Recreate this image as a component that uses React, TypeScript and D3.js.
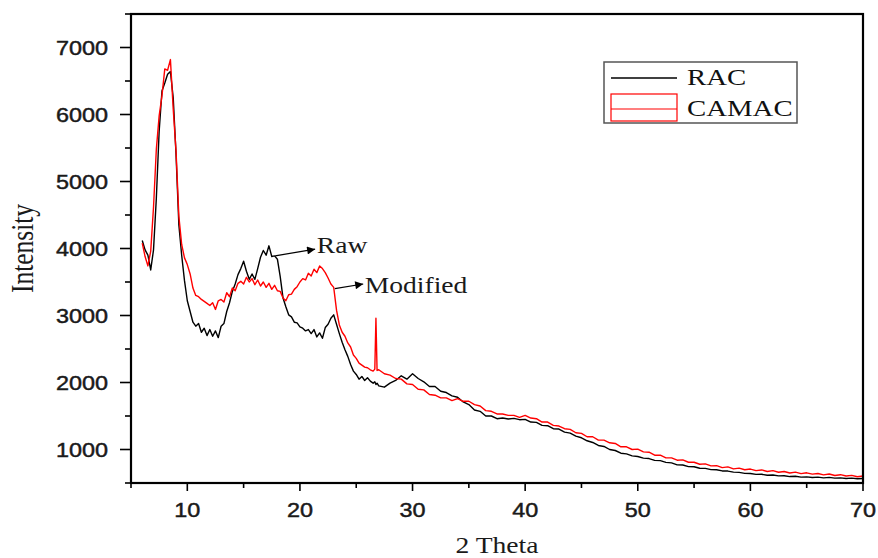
import React from "react";
import * as d3 from "d3";

// 2θ sampling positions (degrees)
const twoTheta: number[] = [
  6, 6.25, 6.5, 6.75, 7, 7.25, 7.5, 7.75, 8, 8.25, 8.5, 8.75, 9, 9.25, 9.5, 9.75,
  10, 10.25, 10.5, 10.75, 11, 11.25, 11.5, 11.75, 12, 12.25, 12.5, 12.75, 13, 13.25, 13.5, 13.75,
  14, 14.25, 14.5, 14.75, 15, 15.25, 15.5, 15.75, 16, 16.25, 16.5, 16.75, 17, 17.25, 17.5, 17.75,
  18, 18.25, 18.5, 18.75, 19, 19.25, 19.5, 19.75, 20, 20.25, 20.5, 20.75, 21, 21.25, 21.5, 21.75,
  22, 22.25, 22.5, 22.75, 23, 23.25, 23.5, 23.75, 24, 24.25, 24.5, 24.75, 25, 25.25, 25.5, 25.75,
  26, 26.25, 26.5, 26.65, 26.75, 26.85, 27, 27.5, 28, 28.5, 29, 29.5, 30, 30.5, 31, 31.5,
  32, 32.5, 33, 33.5, 34, 34.5, 35, 35.5, 36, 36.5, 37, 37.5, 38, 38.5, 39, 39.5,
  40, 40.5, 41, 41.5, 42, 42.5, 43, 43.5, 44, 44.5, 45, 45.5, 46, 46.5, 47, 47.5,
  48, 48.5, 49, 49.5, 50, 50.5, 51, 51.5, 52, 52.5, 53, 53.5, 54, 54.5, 55, 55.5,
  56, 56.5, 57, 57.5, 58, 58.5, 59, 59.5, 60, 60.5, 61, 61.5, 62, 62.5, 63, 63.5,
  64, 64.5, 65, 65.5, 66, 66.5, 67, 67.5, 68, 68.5, 69, 69.5, 70,
];

// RAC (raw) intensity
const racIntensity: number[] = [
  4120, 3980, 3900, 3680, 3980, 4750, 5750, 6350, 6470, 6600, 6640, 6250, 5400, 4350, 3900, 3520,
  3220, 3060, 2900, 2840, 2880, 2750, 2810, 2700, 2790, 2690, 2770, 2670, 2840, 2880, 3060, 3190,
  3360, 3470, 3610, 3700, 3810, 3660, 3540, 3620, 3540, 3700, 3870, 3970, 3900, 4040, 3880, 3890,
  3840, 3580, 3260, 3130, 3010, 2980, 2900, 2890, 2830, 2810, 2770, 2790, 2730, 2790, 2680, 2740,
  2660, 2820, 2870, 2960, 3010, 2870, 2730, 2600, 2490, 2390, 2270, 2170, 2120, 2050, 2090, 2030,
  2070, 2020, 1990, 2010, 1970, 1990, 1950, 1930, 1990, 2030, 2100, 2050, 2130, 2060, 2010, 1940,
  1940, 1870, 1850, 1800, 1780, 1710, 1670, 1590, 1570, 1500, 1500, 1460, 1470, 1455, 1465, 1445,
  1450, 1410, 1405, 1360, 1355, 1310, 1305, 1260, 1245, 1200, 1175, 1130, 1105, 1060, 1045, 1000,
  985, 945, 935, 905, 895, 872, 865, 838, 834, 808, 800, 770, 768, 745, 742, 720,
  718, 700, 698, 680, 678, 662, 658, 643, 642, 628, 630, 616, 620, 607, 609, 596,
  600, 588, 592, 583, 587, 576, 584, 572, 577, 568, 573, 564, 568,
];

// CAMAC (modified) intensity
const camacIntensity: number[] = [
  4080, 3880, 3740, 3960, 4620, 5480, 5980, 6280, 6680, 6660, 6820, 6080, 5450, 4480, 4060, 3860,
  3760, 3620, 3410, 3300, 3280, 3240, 3210, 3180, 3150, 3190, 3090, 3220, 3240, 3200, 3340, 3280,
  3410, 3370, 3480, 3510, 3470, 3570, 3500, 3550, 3460, 3530, 3440, 3500, 3420, 3480, 3390, 3450,
  3370, 3360, 3260, 3220, 3310, 3320, 3390, 3430, 3500, 3550, 3530, 3630, 3590, 3690, 3640, 3740,
  3700, 3640, 3560, 3470, 3420, 3080, 2860, 2750, 2690, 2590, 2530, 2410, 2360, 2290, 2260, 2230,
  2220, 2190, 2170, 2200, 2960, 2180, 2190, 2130, 2110, 2060, 2050, 1980, 1970, 1900, 1890, 1820,
  1810, 1770, 1770, 1730, 1760, 1720, 1720, 1670, 1650, 1580, 1570, 1530, 1530, 1510, 1510, 1480,
  1510, 1470, 1460, 1410, 1410, 1360, 1350, 1310, 1300, 1250, 1240, 1190, 1190, 1140, 1140, 1100,
  1090, 1040, 1040, 1000, 1005, 965, 960, 915, 915, 875, 875, 840, 845, 810, 810, 780,
  785, 755, 760, 730, 740, 710, 722, 698, 708, 685, 695, 672, 684, 660, 672, 650,
  662, 640, 652, 632, 642, 622, 634, 612, 624, 604, 614, 594, 604,
];

const xMajorTicks: number[] = [10, 20, 30, 40, 50, 60, 70];
const xMinorTicks: number[] = [5, 15, 25, 35, 45, 55, 65];
const yMajorTicks: number[] = [1000, 2000, 3000, 4000, 5000, 6000, 7000];
const yMinorTicks: number[] = [500, 1500, 2500, 3500, 4500, 5500, 6500, 7500];

const seriesNames: string[] = ["RAC", "CAMAC"];
const seriesColors: string[] = ["#000000", "#ff0000"];

// annotations: label, arrow start (on curve), arrow tip, in data coordinates
const annotationLabels: string[] = ["Raw", "Modified"];
const annotationFrom: [number, number][] = [[17.8, 3890], [23.1, 3400]];
const annotationTo: [number, number][] = [[21.35, 3990], [25.62, 3470]];
const annotationText: [number, number][] = [[21.5, 3930], [25.75, 3330]];

const W = 878;
const H = 558;
const M = { left: 131, right: 15, top: 14, bottom: 75 };
const SX = 1.2; // horizontal text stretch of the reference

export default function App() {
  const x = d3.scaleLinear().domain([5, 70]).range([M.left, W - M.right]);
  const y = d3.scaleLinear().domain([500, 7500]).range([H - M.bottom, M.top]);

  const line = d3
    .line<number>()
    .x((_, i) => x(twoTheta[i]))
    .y((d) => y(d));

  const x0 = x.range()[0];
  const x1 = x.range()[1];
  const y0 = y.range()[0];
  const y1 = y.range()[1];

  const sans = "'Liberation Sans', Arial, sans-serif";
  const serif = "'Liberation Serif', 'Times New Roman', serif";

  const legX = 604;
  const legY = 62;

  return (
    <svg
      width={W}
      height={H}
      style={{ position: "absolute", left: 0, top: 0, background: "#fff" }}
    >
      <rect x={0} y={0} width={W} height={H} fill="#fff" />
      <defs>
        <marker id="arrow" viewBox="0 0 10 10" refX="10" refY="5" markerWidth="16" markerHeight="8" markerUnits="userSpaceOnUse" orient="auto">
          <path d="M0,0 L10,5 L0,10 z" fill="#000" />
        </marker>
      </defs>

      {/* curves */}
      <path d={line(racIntensity) || ""} fill="none" stroke={seriesColors[0]} strokeWidth={1.4} strokeLinejoin="round" />
      <path d={line(camacIntensity) || ""} fill="none" stroke={seriesColors[1]} strokeWidth={1.4} strokeLinejoin="round" />

      {/* frame */}
      <rect x={x0} y={y1} width={x1 - x0} height={y0 - y1} fill="none" stroke="#000" strokeWidth={2.2} />

      {/* y ticks */}
      {yMajorTicks.map((t) => (
        <g key={"ym" + t}>
          <line x1={x0 - 11} x2={x0} y1={y(t)} y2={y(t)} stroke="#000" strokeWidth={1.6} />
          <text
            transform={`translate(${x0 - 23},${y(t) + 7}) scale(${SX},1)`}
            textAnchor="end"
            fontFamily={sans}
            fontSize={19.5}
            fill="#1a1a1a"
            stroke="#1a1a1a"
            strokeWidth={0.45}
          >
            {t}
          </text>
        </g>
      ))}
      {yMinorTicks.map((t) => (
        <line key={"yn" + t} x1={x0 - 6} x2={x0} y1={y(t)} y2={y(t)} stroke="#000" strokeWidth={1.6} />
      ))}

      {/* x ticks */}
      {xMajorTicks.map((t) => (
        <g key={"xm" + t}>
          <line x1={x(t)} x2={x(t)} y1={y0} y2={y0 + 8} stroke="#000" strokeWidth={1.6} />
          <text
            transform={`translate(${x(t)},${y0 + 34}) scale(${SX},1)`}
            textAnchor="middle"
            fontFamily={sans}
            fontSize={19.5}
            fill="#1a1a1a"
            stroke="#1a1a1a"
            strokeWidth={0.45}
          >
            {t}
          </text>
        </g>
      ))}
      {xMinorTicks.map((t) => (
        <line key={"xn" + t} x1={x(t)} x2={x(t)} y1={y0} y2={y0 + 5} stroke="#000" strokeWidth={1.6} />
      ))}

      {/* axis titles */}
      <text
        transform={`translate(${33},${(y0 + y1) / 2}) scale(${SX},1) rotate(-90)`}
        textAnchor="middle"
        fontFamily={serif}
        fontSize={25.5}
        fill="#1a1a1a"
      >
        Intensity
      </text>
      <text
        transform={`translate(${(x0 + x1) / 2},${553}) scale(${SX},1)`}
        textAnchor="middle"
        fontFamily={serif}
        fontSize={23}
        fill="#1a1a1a"
      >
        2 Theta
      </text>

      {/* annotations */}
      {annotationLabels.map((lab, i) => (
        <g key={lab}>
          <line
            x1={x(annotationFrom[i][0])}
            y1={y(annotationFrom[i][1])}
            x2={x(annotationTo[i][0])}
            y2={y(annotationTo[i][1])}
            stroke="#000"
            strokeWidth={1.2}
            markerEnd="url(#arrow)"
          />
          <text
            transform={`translate(${x(annotationText[i][0])},${y(annotationText[i][1])}) scale(${SX},1)`}
            fontFamily={serif}
            fontSize={23}
            fill="#1a1a1a"
          >
            {lab}
          </text>
        </g>
      ))}

      {/* legend */}
      <rect x={legX} y={legY} width={193} height={61} fill="#fff" stroke="#555" strokeWidth={1.5} />
      <line x1={legX + 7} x2={legX + 73} y1={legY + 16} y2={legY + 16} stroke={seriesColors[0]} strokeWidth={1.3} />
      <text
        transform={`translate(${legX + 83},${legY + 23}) scale(${SX},1)`}
        fontFamily={serif}
        fontSize={24}
        fill="#111"
      >
        {seriesNames[0]}
      </text>
      <rect x={legX + 7} y={legY + 32} width={66} height={27} fill="none" stroke={seriesColors[1]} strokeWidth={1.2} />
      <line x1={legX + 7} x2={legX + 73} y1={legY + 47} y2={legY + 47} stroke={seriesColors[1]} strokeWidth={1.2} />
      <text
        transform={`translate(${legX + 83},${legY + 54}) scale(${SX},1)`}
        fontFamily={serif}
        fontSize={24}
        fill="#111"
      >
        {seriesNames[1]}
      </text>
    </svg>
  );
}
